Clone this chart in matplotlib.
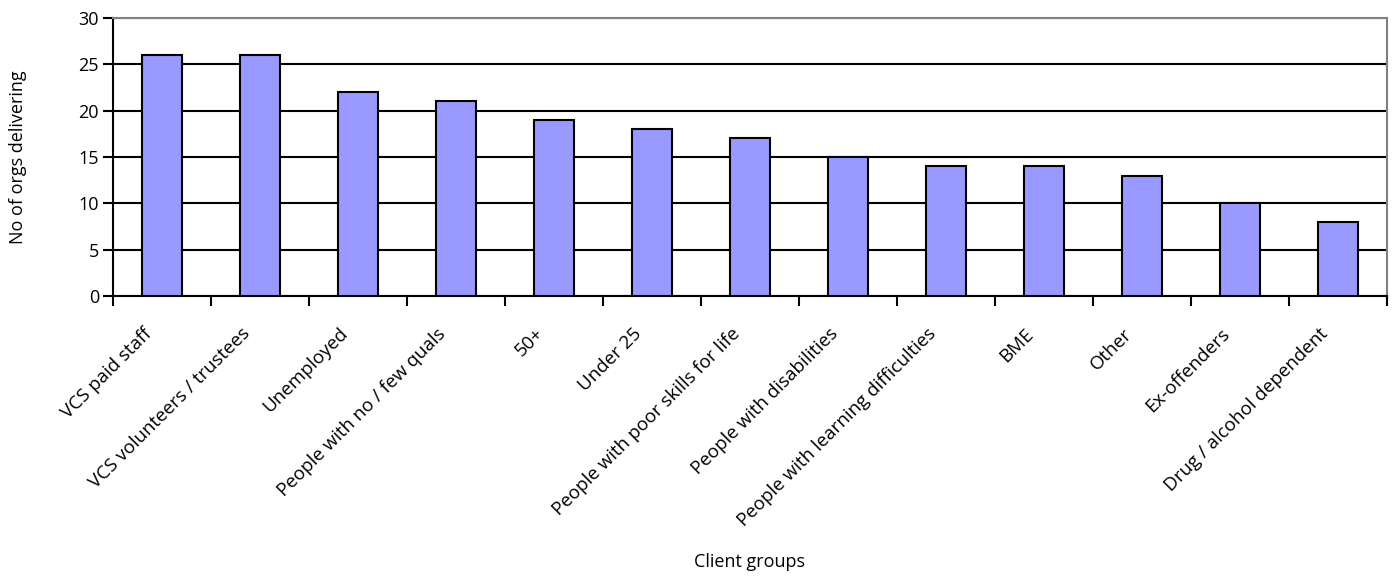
import matplotlib
matplotlib.use("Agg")
import matplotlib.pyplot as plt
import matplotlib.transforms as mtransforms
import numpy as np

categories = [
    "VCS paid staff",
    "VCS volunteers / trustees",
    "Unemployed",
    "People with no / few quals",
    "50+",
    "Under 25",
    "People with poor skills for life",
    "People with disabilities",
    "People with learning difficulties",
    "BME",
    "Other",
    "Ex-offenders",
    "Drug / alcohol dependent",
]
values = [26, 26, 22, 21, 19, 18, 17, 15, 14, 14, 13, 10, 8]
y_ticks = [0, 5, 10, 15, 20, 25, 30]

plt.rcParams["font.family"] = ["Open Sans", "DejaVu Sans"]
FS = 13

fig = plt.figure(figsize=(13.96, 5.81), dpi=100)
ax = fig.add_axes([113 / 1396, 1 - 296 / 581, (1387 - 113) / 1396, (296 - 18) / 581])

x = np.arange(len(categories))
ax.bar(x, values, width=0.4, color="#9999FF", edgecolor="black", linewidth=1.5, zorder=3)

ax.set_xlim(-0.5, len(categories) - 0.5)
ax.set_ylim(0, 30)
ax.set_yticks(y_ticks)
ax.yaxis.grid(True, color="black", linewidth=1.5, zorder=0)
ax.set_axisbelow(True)

# category labels at centres, tick marks between categories
ax.set_xticks(x)
ax.set_xticklabels(categories, rotation=45, ha="right", va="center",
                   rotation_mode="anchor", fontsize=13.5)
ax.tick_params(axis="x", which="major", length=0, pad=0)
offset = mtransforms.ScaledTranslation(-13 / 100, -35 / 100, fig.dpi_scale_trans)
for lbl in ax.get_xticklabels():
    lbl.set_transform(lbl.get_transform() + offset)
ax.set_xticks(np.arange(-0.5, len(categories)), minor=True)
ax.tick_params(axis="x", which="minor", length=7, width=1.5, direction="out")
ax.tick_params(axis="y", length=7, width=1.5, direction="out", labelsize=FS, pad=3)

for side in ["left", "bottom"]:
    ax.spines[side].set_color("black")
    ax.spines[side].set_linewidth(1.5)
for side in ["top", "right"]:
    ax.spines[side].set_color("#808080")
    ax.spines[side].set_linewidth(1.5)

fig.text(18 / 1396, 1 - 157 / 581, "No of orgs delivering", rotation=90,
         ha="center", va="center", fontsize=FS)
fig.text((113 + 1387) / 2 / 1396, 1 - 562 / 581, "Client groups",
         ha="center", va="center", fontsize=FS)

fig.savefig("out.png", dpi=100)
